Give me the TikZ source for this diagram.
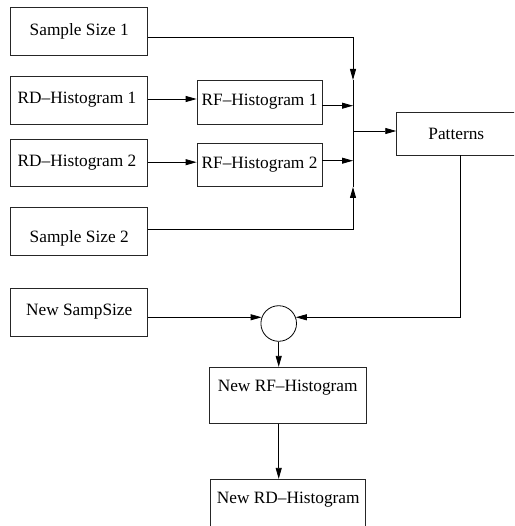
\documentclass[tikz,border=0pt]{standalone}
\usepackage{fontspec}
\setmainfont{Liberation Serif}
\usetikzlibrary{arrows.meta,calc}
\begin{document}
\begin{tikzpicture}[x=1pt,y=-1pt,
  every node/.style={font=\fontsize{17.3}{20}\selectfont},
  box/.style={draw=black!85,line width=0.8pt,rectangle,inner sep=0pt},
  conn/.style={line width=0.8pt,draw=black},
  arr/.style={conn,-{Triangle[length=11pt,width=6pt]}}]
\clip (0,0) rectangle (514,526);
\useasboundingbox (0,0) rectangle (514,526);
% boxes
\node[box,minimum width=137pt,minimum height=48pt] (ss1) at (79.2,31.5) {Sample Size 1};
\node[box,minimum width=137pt,minimum height=48pt] (rd1) at (79.2,100) {};
\node at (77,100) {RD--Histogram 1};
\node[box,minimum width=125pt,minimum height=44pt] (rf1) at (259.5,102) {RF--Histogram 1};
\node[box,minimum width=137pt,minimum height=47pt] (rd2) at (79.2,162.5) {};
\node at (77,162.5) {RD--Histogram 2};
\node[box,minimum width=125pt,minimum height=43pt] (rf2) at (259.5,164.5) {RF--Histogram 2};
\node[box,minimum width=137pt,minimum height=48pt,
      label={[yshift=-32pt,anchor=center]north:Sample Size 2}] (ss2) at (79.2,231) {};
\node[box,minimum width=119.3pt,minimum height=42.7pt] (pat) at (456.3,133.7) {Patterns};
\node[box,minimum width=137pt,minimum height=48pt] (nss) at (79.2,312) {New SampSize};
\node[draw=black,line width=0.8pt,circle,minimum size=35.6pt,inner sep=0pt] (circ) at (278.7,323.5) {};
\node[box,minimum width=156.7pt,minimum height=56pt,
      label={[yshift=-21pt,anchor=center]north:New RF--Histogram}] (nrf) at (287.7,395.3) {};
\node[box,minimum width=155pt,minimum height=56pt,
      label={[yshift=-21pt,anchor=center]north:New RD--Histogram}] (nrd) at (288.2,507.3) {};
% junction coordinates
\coordinate (jt) at (353,80);
\coordinate (jb) at (353,187);
\coordinate (jm) at (353,131);
% connectors
\draw[arr] ([yshift=-5.8pt]ss1.east) -| (jt);
\draw[arr] ([yshift=1.3pt]ss2.east) -| (jb);
\draw[conn] (jt) -- (jb);
\draw[arr] ([yshift=1pt]rd1.east) -- ([yshift=1pt]rd1.east -| rf1.west);
\draw[arr] ([yshift=0.3pt]rd2.east) -- ([yshift=0.3pt]rd2.east -| rf2.west);
\draw[arr] ([yshift=-3.7pt]rf1.east) -- ([yshift=-3.7pt]rf1.east -| jm);
\draw[arr] ([yshift=3.8pt]rf2.east) -- ([yshift=3.8pt]rf2.east -| jm);
\draw[arr] (jm) -- (jm -| pat.west);
\draw[arr] ([xshift=3.7pt]pat.south) |- (circ.20);
\draw[arr] (nss.east |- circ.160) -- (circ.160);
\draw[arr] (circ.south) -- (circ.south |- nrf.north);
\draw[arr] (nrf.south -| circ.south) -- (nrd.north -| circ.south);
\end{tikzpicture}
\end{document}
